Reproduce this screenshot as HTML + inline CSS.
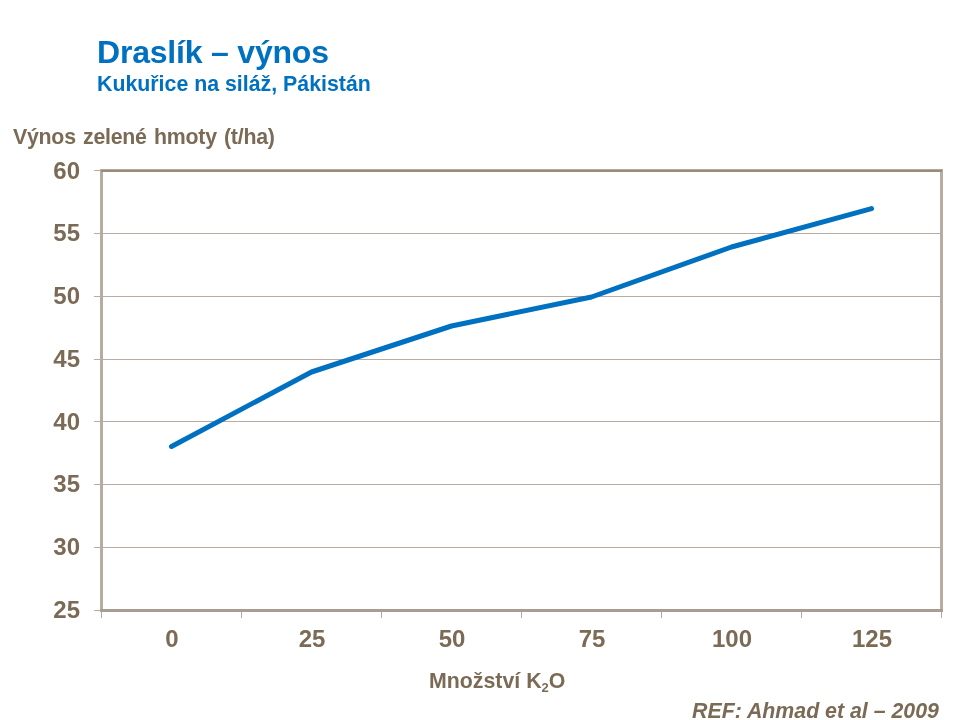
<!DOCTYPE html>
<html><head><meta charset="utf-8">
<style>
html,body{margin:0;padding:0;background:#fff;}
body{width:960px;height:720px;position:relative;overflow:hidden;font-family:"Liberation Sans",sans-serif;font-weight:bold;}
.t{position:absolute;white-space:nowrap;line-height:1;will-change:transform;}
#title{left:96.5px;top:36px;font-size:32px;letter-spacing:-0.2px;color:#0070C0;}
#sub{left:97px;top:74px;font-size:21.33px;color:#0070C0;}
#ytitle{left:13px;top:127px;font-size:21.33px;letter-spacing:-0.25px;word-spacing:1.6px;color:#7B6A55;}
.yl{font-size:24px;color:#7B6A55;text-align:right;width:60px;left:20px;}
.xl{font-size:24px;color:#7B6A55;text-align:center;width:100px;top:627px;}
#xtitle{left:429px;top:671px;font-size:21.33px;color:#7B6A55;}
#ref{left:692px;top:701px;font-size:21.33px;color:#7B6A55;font-style:italic;}
svg{position:absolute;left:0;top:0;}
</style></head><body>
<svg width="960" height="720" viewBox="0 0 960 720">
  <g stroke="#B8ACA2" stroke-width="1" shape-rendering="crispEdges">
    <line x1="94" y1="233.5" x2="941" y2="233.5"/>
    <line x1="94" y1="296.5" x2="941" y2="296.5"/>
    <line x1="94" y1="359.5" x2="941" y2="359.5"/>
    <line x1="94" y1="421.5" x2="941" y2="421.5"/>
    <line x1="94" y1="484.5" x2="941" y2="484.5"/>
    <line x1="94" y1="547.5" x2="941" y2="547.5"/>
    <line x1="94" y1="170.5" x2="101" y2="170.5"/>
    <line x1="94" y1="610.5" x2="101" y2="610.5"/>
  </g>
  <g stroke="#B3A89C" stroke-width="1" shape-rendering="crispEdges">
    <line x1="101.5" y1="611" x2="101.5" y2="618"/>
    <line x1="241.5" y1="611" x2="241.5" y2="618"/>
    <line x1="381.5" y1="611" x2="381.5" y2="618"/>
    <line x1="521.5" y1="611" x2="521.5" y2="618"/>
    <line x1="661.5" y1="611" x2="661.5" y2="618"/>
    <line x1="801.5" y1="611" x2="801.5" y2="618"/>
    <line x1="941.5" y1="611" x2="941.5" y2="618"/>
  </g>
  <g shape-rendering="crispEdges">
    <rect x="100" y="169" width="3" height="443" fill="#B6ACA1"/>
    <rect x="940" y="169" width="3" height="443" fill="#B6ACA1"/>
    <rect x="101" y="169" width="841" height="1" fill="#B5A898"/>
    <rect x="101" y="170" width="841" height="2" fill="#9C8B7A"/>
    <rect x="100" y="609" width="843" height="3" fill="#A89D92"/>
  </g>
  <polyline fill="none" stroke="#0070C0" stroke-width="5" stroke-linecap="round" stroke-linejoin="round"
    points="171.5,446.5 311.5,372 451.5,326 591.5,297 731.5,247 871.5,208.6"/>
</svg>
<div class="t" id="title">Draslík – výnos</div>
<div class="t" id="sub">Kukuřice na siláž, Pákistán</div>
<div class="t" id="ytitle">Výnos zelené hmoty (t/ha)</div>
<div class="t yl" style="top:159px">60</div>
<div class="t yl" style="top:221px">55</div>
<div class="t yl" style="top:284px">50</div>
<div class="t yl" style="top:347px">45</div>
<div class="t yl" style="top:410px">40</div>
<div class="t yl" style="top:472px">35</div>
<div class="t yl" style="top:535px">30</div>
<div class="t yl" style="top:598px">25</div>
<div class="t xl" style="left:121.5px">0</div>
<div class="t xl" style="left:261.5px">25</div>
<div class="t xl" style="left:401.5px">50</div>
<div class="t xl" style="left:541.5px">75</div>
<div class="t xl" style="left:681.5px">100</div>
<div class="t xl" style="left:821.5px">125</div>
<div class="t" id="xtitle">Množství K<sub style="font-size:13px;vertical-align:-4px;line-height:0">2</sub>O</div>
<div class="t" id="ref">REF: Ahmad et al – 2009</div>
</body></html>
